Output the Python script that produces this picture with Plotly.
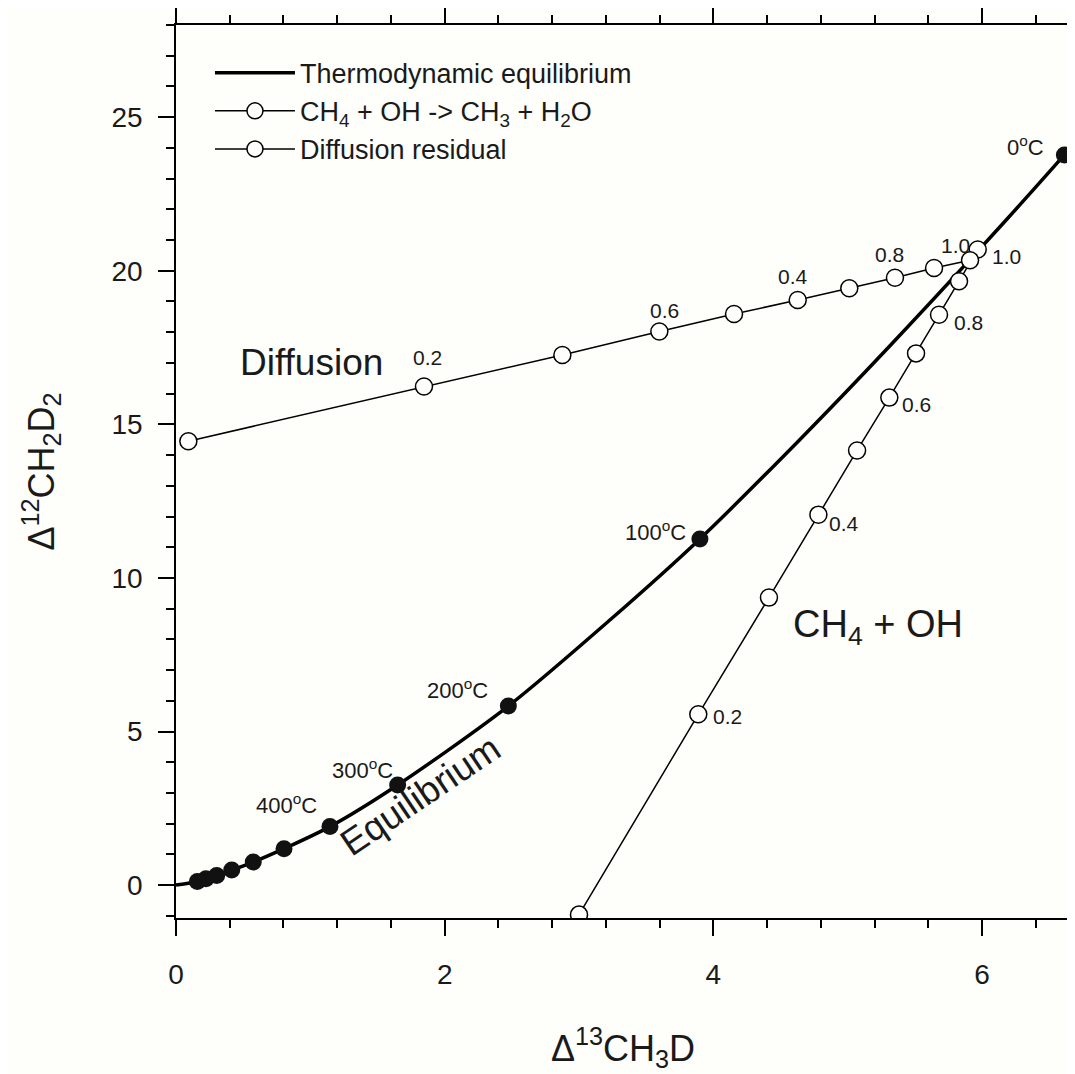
import plotly.graph_objects as go

# ---------------- data ----------------
# Thermodynamic equilibrium curve (smooth line)
eq_curve_x = [0.0, 0.159, 0.223, 0.303, 0.415, 0.575, 0.804, 1.146, 1.65, 2.474,
              3.23, 3.90, 4.645, 5.315, 6.19, 6.613]
eq_curve_y = [0.0, 0.12, 0.206, 0.317, 0.49, 0.75, 1.186, 1.905, 3.26, 5.83,
              8.63, 11.27, 14.51, 17.56, 21.7, 23.77]

# Equilibrium temperature points (filled)
eq_pts_x = [6.613, 3.90, 2.474, 1.65, 1.146, 0.804, 0.575, 0.415, 0.303, 0.223, 0.159]
eq_pts_y = [23.77, 11.27, 5.83, 3.26, 1.905, 1.186, 0.75, 0.49, 0.317, 0.206, 0.12]
eq_labels = ["0<sup>o</sup>C", "100<sup>o</sup>C", "200<sup>o</sup>C", "300<sup>o</sup>C", "400<sup>o</sup>C"]
eq_label_x = [6.32, 3.566, 2.092, 1.385, 0.826]
eq_label_y = [24.05, 11.54, 6.37, 3.79, 2.65]

# CH4 + OH -> CH3 + H2O
oh_x = [3.00, 3.888, 4.414, 4.782, 5.07, 5.31, 5.509, 5.68, 5.829, 5.968]
oh_y = [-0.96, 5.56, 9.36, 12.06, 14.15, 15.87, 17.31, 18.57, 19.66, 20.69]
oh_labels = ["0.2", "0.4", "0.6", "0.8", "1.0"]
oh_label_x = [4.106, 4.971, 5.509, 5.898, 5.80]
oh_label_y = [5.50, 11.76, 15.65, 18.32, 20.83]

# Diffusion residual
df_x = [0.092, 1.846, 2.876, 3.598, 4.154, 4.628, 5.012, 5.352, 5.643, 5.911]
df_y = [14.45, 16.23, 17.26, 18.02, 18.59, 19.05, 19.43, 19.77, 20.09, 20.34]
df_labels = ["0.2", "0.6", "0.4", "0.8", "1.0"]
df_label_x = [1.869, 3.633, 4.59, 5.308, 6.184]
df_label_y = [17.16, 18.71, 19.82, 20.53, 20.45]

x_ticks = [0, 2, 4, 6]
y_ticks = [0, 5, 10, 15, 20, 25]

FONT = "Liberation Sans, Arial, sans-serif"
BG = "#fefefb"
TXT = "#1a1a1a"

fig = go.Figure()

fig.add_trace(go.Scatter(
    x=eq_curve_x, y=eq_curve_y, mode="lines",
    line=dict(color="black", width=3.5, shape="spline", smoothing=0.8),
    name="Thermodynamic equilibrium", showlegend=True))

fig.add_trace(go.Scatter(
    x=oh_x, y=oh_y, mode="lines+markers",
    line=dict(color="black", width=1.5),
    marker=dict(symbol="circle", size=17, color=BG, line=dict(color="black", width=1.5)),
    name="CH<sub>4</sub> + OH -> CH<sub>3</sub> + H<sub>2</sub>O"))

fig.add_trace(go.Scatter(
    x=df_x, y=df_y, mode="lines+markers",
    line=dict(color="black", width=1.5),
    marker=dict(symbol="circle", size=17, color=BG, line=dict(color="black", width=1.5)),
    name="Diffusion residual"))

fig.add_trace(go.Scatter(
    x=eq_pts_x, y=eq_pts_y, mode="markers",
    marker=dict(symbol="circle", size=17, color="#111111"),
    showlegend=False))

ann = []
for t, x, y in zip(eq_labels, eq_label_x, eq_label_y):
    ann.append(dict(x=x, y=y, text=t, showarrow=False, font=dict(size=22, color=TXT)))
for t, x, y in zip(oh_labels, oh_label_x, oh_label_y):
    ann.append(dict(x=x, y=y, text=t, showarrow=False, font=dict(size=21, color=TXT)))
for t, x, y in zip(df_labels, df_label_x, df_label_y):
    ann.append(dict(x=x, y=y, text=t, showarrow=False, font=dict(size=21, color=TXT)))
ann.append(dict(x=1.01, y=17.02, text="Diffusion", showarrow=False, font=dict(size=37, color=TXT)))
ann.append(dict(x=5.226, y=8.4, text="CH<sub>4</sub> + OH", showarrow=False, font=dict(size=38, color=TXT)))
ann.append(dict(x=1.822, y=2.91, text="Equilibrium", showarrow=False, textangle=-34,
                font=dict(size=37, color=TXT)))

axis_common = dict(
    showline=True, linecolor="black", linewidth=1.5, mirror="allticks",
    ticks="outside", ticklen=16, tickwidth=1.5, tickcolor="black",
    showgrid=False, zeroline=False, automargin=False,
    tickfont=dict(size=28, color=TXT, family=FONT),
)

# page body has an 8px margin: figure size/margins compensate so the plot
# area lands at x 176..1070, y 25..918 of the window
fig.update_layout(
    width=1067, height=1066,
    margin=dict(l=168, r=5, t=17, b=156),
    paper_bgcolor=BG, plot_bgcolor=BG,
    font=dict(family=FONT, color=TXT),
    annotations=ann,
    legend=dict(x=0.038, y=0.9735, xanchor="left", yanchor="top",
                bgcolor="rgba(0,0,0,0)", font=dict(size=27, color=TXT),
                itemwidth=80, tracegroupgap=0),
    xaxis=dict(range=[0, 6.655], tickvals=x_ticks, ticklabelstandoff=15,
               minor=dict(ticks="outside", dtick=0.4, tick0=0, ticklen=8, tickwidth=1.5, tickcolor="black"),
               title=dict(text="\u0394<sup>13</sup>CH<sub>3</sub>D", font=dict(size=36, color=TXT), standoff=46),
               **axis_common),
    yaxis=dict(range=[-1.07, 28.0], tickvals=y_ticks, ticklabelstandoff=10,
               minor=dict(ticks="outside", dtick=1, tick0=0, ticklen=8, tickwidth=1.5, tickcolor="black"),
               title=dict(text="\u0394<sup>12</sup>CH<sub>2</sub>D<sub>2</sub>", font=dict(size=36, color=TXT), standoff=46),
               **axis_common),
)

fig.write_html("out.html")
